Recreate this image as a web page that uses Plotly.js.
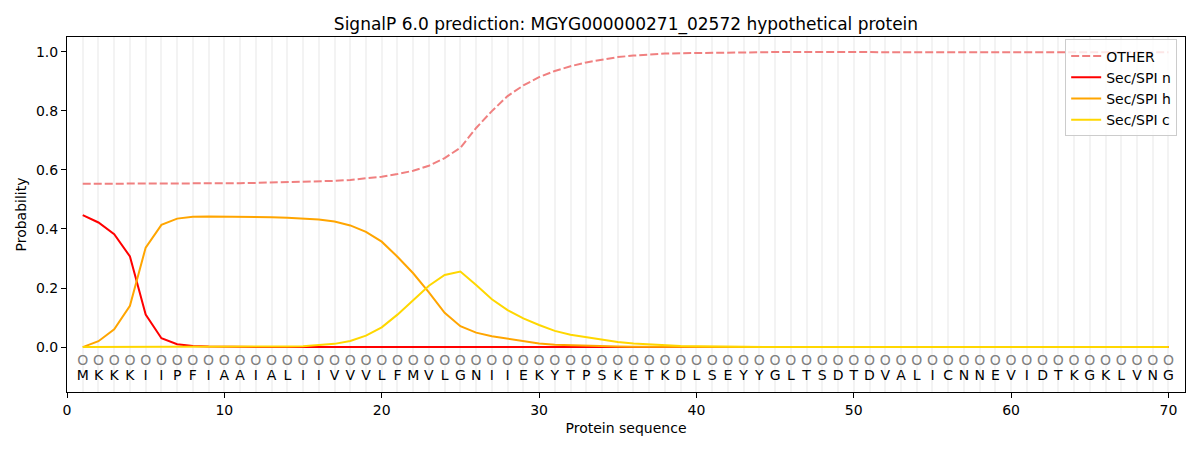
<!DOCTYPE html>
<html>
<head>
<meta charset="utf-8">
<script src="https://cdn.plot.ly/plotly-3.0.1.min.js"></script>
<style>
  html, body { margin: 0; padding: 0; background: #fff; }
  #chart { width: 1200px; height: 450px; }
</style>
</head>
<body>
<div id="chart"></div>
<script>
// residue sequence, one letter per position 1..70
const sequence = "MKKKIIPFIAAIALIIVVVLFMVLGNIIEKYTPSKETKDLSEYYGLTSDTDVALICNNEVIDTKGKLVNG".split("");
const positions = sequence.map((_, i) => i + 1);

// predicted label per residue (all "O" = other)
const labels = sequence.map(() => "O");

// probabilities
const other = [
  0.553, 0.553, 0.553, 0.553, 0.553, 0.553, 0.554, 0.554, 0.554, 0.555,
  0.555, 0.556, 0.557, 0.558, 0.559, 0.561, 0.563, 0.566, 0.571, 0.577,
  0.586, 0.597, 0.614, 0.640, 0.675, 0.742, 0.799, 0.850, 0.886, 0.914,
  0.935, 0.951, 0.964, 0.974, 0.982, 0.987, 0.991, 0.994, 0.995, 0.996,
  0.997, 0.998, 0.998, 0.999, 0.999, 0.999, 0.999, 1.000, 1.000, 1.000,
  1.000, 1.000, 1.000, 1.000, 0.999, 0.999, 0.999, 0.999, 0.999, 0.999,
  0.998, 0.998, 0.998, 0.998, 0.998, 0.998, 0.998, 0.998, 0.998, 0.998
];
const secN = [
  0.447, 0.422, 0.382, 0.307, 0.110, 0.030, 0.010, 0.004, 0.002, 0.001,
  0.001, 0.001, 0.000, 0.000, 0.000, 0.000, 0.000, 0.000, 0.000, 0.000,
  0.000, 0.000, 0.000, 0.000, 0.000, 0.000, 0.000, 0.000, 0.000, 0.000,
  0.000, 0.000, 0.000, 0.000, 0.000, 0.000, 0.000, 0.000, 0.000, 0.000,
  0.000, 0.000, 0.000, 0.000, 0.000, 0.000, 0.000, 0.000, 0.000, 0.000,
  0.000, 0.000, 0.000, 0.000, 0.000, 0.000, 0.000, 0.000, 0.000, 0.000,
  0.000, 0.000, 0.000, 0.000, 0.000, 0.000, 0.000, 0.000, 0.000, 0.000
];
const secH = [
  0.000, 0.020, 0.060, 0.140, 0.337, 0.414, 0.435, 0.441, 0.442, 0.442,
  0.442, 0.441, 0.440, 0.438, 0.436, 0.432, 0.425, 0.412, 0.390, 0.357,
  0.306, 0.250, 0.185, 0.116, 0.071, 0.049, 0.037, 0.028, 0.019, 0.012,
  0.008, 0.006, 0.004, 0.003, 0.002, 0.001, 0.001, 0.000, 0.000, 0.000,
  0.000, 0.000, 0.000, 0.000, 0.000, 0.000, 0.000, 0.000, 0.000, 0.000,
  0.000, 0.000, 0.000, 0.000, 0.000, 0.000, 0.000, 0.000, 0.000, 0.000,
  0.000, 0.000, 0.000, 0.000, 0.000, 0.000, 0.000, 0.000, 0.000, 0.000
];
const secC = [
  0.000, 0.000, 0.000, 0.000, 0.000, 0.000, 0.000, 0.000, 0.000, 0.000,
  0.000, 0.000, 0.001, 0.002, 0.003, 0.006, 0.011, 0.021, 0.039, 0.067,
  0.110, 0.159, 0.208, 0.244, 0.256, 0.210, 0.162, 0.125, 0.097, 0.075,
  0.055, 0.042, 0.033, 0.024, 0.017, 0.012, 0.009, 0.006, 0.004, 0.003,
  0.002, 0.001, 0.001, 0.000, 0.000, 0.000, 0.000, 0.000, 0.000, 0.000,
  0.000, 0.000, 0.000, 0.000, 0.000, 0.000, 0.000, 0.000, 0.000, 0.000,
  0.000, 0.000, 0.000, 0.000, 0.000, 0.000, 0.000, 0.000, 0.000, 0.000
];

const xTicks = [0, 10, 20, 30, 40, 50, 60, 70];
const yTicks = [0.0, 0.2, 0.4, 0.6, 0.8, 1.0];

const FONT = "DejaVu Sans, sans-serif";
const GRID = "#f3f3f3";

const traces = [
  {
    x: positions, y: other, type: "scatter", mode: "lines", name: "OTHER",
    line: { color: "#f08080", width: 2, dash: "8px,3px" }
  },
  {
    x: positions, y: secN, type: "scatter", mode: "lines", name: "Sec/SPI n",
    line: { color: "#ff0000", width: 2 }
  },
  {
    x: positions, y: secH, type: "scatter", mode: "lines", name: "Sec/SPI h",
    line: { color: "#ffa500", width: 2 }
  },
  {
    x: positions, y: secC, type: "scatter", mode: "lines", name: "Sec/SPI c",
    line: { color: "#ffd700", width: 2 }
  },
  // label row
  {
    x: positions, y: positions.map(() => -0.05), text: labels,
    type: "scatter", mode: "text", showlegend: false, hoverinfo: "skip",
    textfont: { family: FONT, size: 14, color: "#808080" }
  },
  // residue row
  {
    x: positions, y: positions.map(() => -0.1), text: sequence,
    type: "scatter", mode: "text", showlegend: false, hoverinfo: "skip",
    textfont: { family: FONT, size: 14, color: "#000000" }
  }
];

const layout = {
  width: 1200, height: 450,
  margin: { l: 67, r: 15, t: 37, b: 58 },
  paper_bgcolor: "#ffffff", plot_bgcolor: "#ffffff",
  font: { family: FONT, size: 14, color: "#000" },
  title: {
    text: "SignalP 6.0 prediction: MGYG000000271_02572 hypothetical protein",
    font: { family: FONT, size: 17, color: "#000" },
    x: 0.5, xref: "paper", xanchor: "center", y: 1, yref: "container", yanchor: "top", pad: { t: 18 }
  },
  xaxis: {
    range: [0, 71.05], tickvals: xTicks, ticktext: xTicks.map(String),
    showline: true, linecolor: "#000", linewidth: 1, mirror: true,
    ticks: "outside", ticklen: 5, tickcolor: "#000",
    showgrid: true, gridcolor: GRID, gridwidth: 2,
    minor: { dtick: 1, tick0: 0, showgrid: true, gridcolor: GRID, gridwidth: 2, ticks: "" },
    zeroline: false,
    title: { text: "Protein sequence", font: { family: FONT, size: 14 }, standoff: 6 },
    tickfont: { family: FONT, size: 14 }
  },
  yaxis: {
    range: [-0.152, 1.05], tickvals: yTicks, ticktext: yTicks.map(v => v.toFixed(1)),
    showline: true, linecolor: "#000", linewidth: 1, mirror: true,
    ticks: "outside", ticklen: 5, tickcolor: "#000",
    showgrid: false, zeroline: false,
    title: { text: "Probability", font: { family: FONT, size: 14 }, standoff: 6 },
    tickfont: { family: FONT, size: 14 }
  },
  legend: {
    x: 0.993, y: 0.993, xanchor: "right", yanchor: "top",
    bgcolor: "rgba(255,255,255,0.8)", bordercolor: "#cccccc", borderwidth: 1,
    font: { family: FONT, size: 14 }, tracegroupgap: 0
  },
  showlegend: true
};

Plotly.newPlot("chart", traces, layout, { staticPlot: true });
</script>
</body>
</html>
